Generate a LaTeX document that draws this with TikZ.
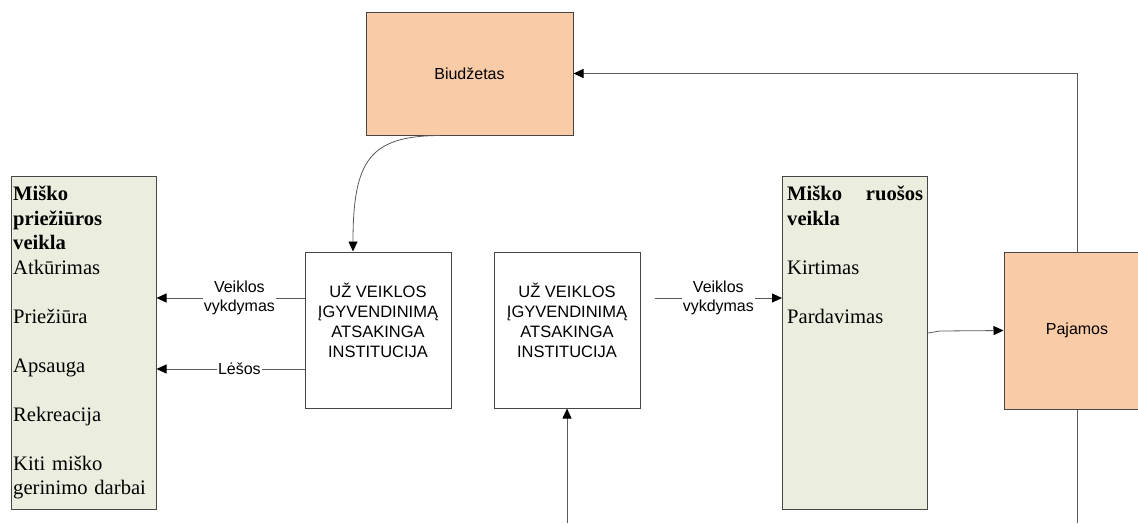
\documentclass[tikz,border=0pt]{standalone}
\usepackage{fontspec}
\setmainfont{Liberation Serif}
\setsansfont{Liberation Sans}
\usetikzlibrary{arrows.meta}

\definecolor{peach}{RGB}{249,203,167}
\definecolor{sage}{RGB}{235,238,222}
\definecolor{edgegray}{RGB}{70,70,70}
\definecolor{wiregray}{RGB}{90,90,90}

\tikzset{
  box/.style={draw=edgegray, line width=1pt, inner sep=0pt},
  money/.style={box, fill=peach, font=\sffamily\fontsize{16}{19}\selectfont},
  work/.style={box, fill=sage, minimum width=145pt, minimum height=333pt},
  inst/.style={box, fill=white, minimum width=146pt, minimum height=156pt,
    align=center, font=\sffamily\fontsize{16.5}{20}\selectfont},
  plain/.style={draw=wiregray, line width=0.8pt},
  flow/.style={plain, -{Triangle[length=10pt,width=9pt,color=black]}},
  tag/.style={fill=white, inner sep=1pt, align=center,
    font=\sffamily\fontsize{16}{19}\selectfont},
  items/.style={anchor=north west, inner sep=0pt, text width=137pt,
    align=left, font=\fontsize{20.6}{24.5}\selectfont}
}

\begin{document}
\begin{tikzpicture}[x=1pt,y=-1pt]
\useasboundingbox (0,0) rectangle (1138,523);

%%   boxes
    \node[money, minimum width=207pt, minimum height=123pt] (budget) at (469.5,73.5) {Biudžetas};
    \node[money, minimum width=146pt, minimum height=157pt] (income) at (1077,330.5) {Pajamos};
    \node[work] (care) at (83.5,342.5) {};
    \node[work] (harvest) at (855,342.5) {};
    \node[inst] (inst1) at (378,330) {UŽ VEIKLOS\\ĮGYVENDINIMĄ\\ATSAKINGA\\INSTITUCIJA\\~};
    \node[inst] (inst2) at (567,330) {UŽ VEIKLOS\\ĮGYVENDINIMĄ\\ATSAKINGA\\INSTITUCIJA\\~};

    \node[items] (caretext) at (13,186) {\textbf{Miško}\\\textbf{priežiūros}\\\textbf{veikla}\\Atkūrimas\\[24.5pt]Priežiūra\\[24.5pt]Apsauga\\[24.5pt]Rekreacija\\[24.5pt]Kiti miško\\gerinimo darbai};
    \node[items, text width=136pt] (harvesttext) at (787,186) {\textbf{Miško\hfill ruošos}\\\textbf{veikla}\\[24.5pt]Kirtimas\\[24.5pt]Pardavimas};

%%   levels and loose ends
    \coordinate (lvl1) at (0,298);
    \coordinate (lvl2) at (0,369);
    \coordinate (sell) at (0,333);
    \coordinate (kink) at (940,331);
    \coordinate (floor1) at (567,523);
    \coordinate (floor2) at (1077,523);

    \draw[flow] ([xshift=-30pt]budget.south) .. controls (370,136) and (353,160) .. ([xshift=-25pt]inst1.north);
    \draw[flow] (inst1.west |- lvl1) -- node[tag, pos=0.44] {Veiklos\\vykdymas} (care.east |- lvl1);
    \draw[flow] (inst1.west |- lvl2) -- node[tag, pos=0.44] {Lėšos} (care.east |- lvl2);
    \draw[flow, shorten <=14pt] (inst2.east |- lvl1) -- node[tag, pos=0.55] {Veiklos\\vykdymas} (harvest.west |- lvl1);
    \draw[flow] (harvest.east |- sell) -- (kink) -- (income.west);
    \draw[flow] (income.north) -- (income.north |- budget.east) -- (budget.east);
    \draw[plain] (income.south) -- (floor2);
    \draw[flow] (floor1) -- (inst2.south);
\end{tikzpicture}
\end{document}
